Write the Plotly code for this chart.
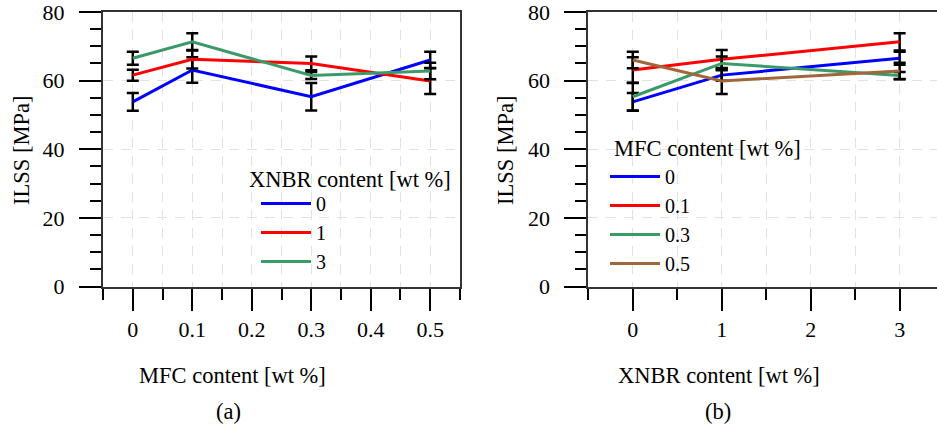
import plotly.graph_objects as go

# ---- data ----
mfc_levels = [0, 0.1, 0.3, 0.5]          # MFC content [wt %]
xnbr_levels = [0, 1, 3]                  # XNBR content [wt %]

# ILSS [MPa] for each MFC level, ordered by XNBR level (0, 1, 3)
ilss_mfc_0 = [53.8, 61.6, 66.5]
ilss_mfc_01 = [63.1, 66.2, 71.3]
ilss_mfc_03 = [55.3, 65.0, 61.5]
ilss_mfc_05 = [66.0, 59.9, 62.8]

# error (+/-) [MPa], same ordering
err_mfc_0 = [2.6, 1.6, 1.9]
err_mfc_01 = [3.7, 2.7, 2.5]
err_mfc_03 = [4.0, 2.0, 1.0]
err_mfc_05 = [2.4, 3.8, 2.4]

mfc_labels = ["0", "0.1", "0.3", "0.5"]
xnbr_labels = ["0", "1", "3"]

ilss_rows = [ilss_mfc_0, ilss_mfc_01, ilss_mfc_03, ilss_mfc_05]
err_rows = [err_mfc_0, err_mfc_01, err_mfc_03, err_mfc_05]

# ---- styles ----
FONT = "Liberation Serif, Times New Roman, serif"
FS = 22
TFS = 22.5
LFS = 20
left_colors = ["#0000FF", "#FF0000", "#3A9A6A"]
right_colors = ["#0000FF", "#FF0000", "#3A9A6A", "#A0683A"]
GRID = "#e2e2e2"
DASH = "10px,8px"
AXLINE = "#333333"
W, H = 937, 437

fig = go.Figure()

# panel (a): ILSS vs MFC, one line per XNBR level
for j, lab in enumerate(xnbr_labels):
    fig.add_trace(go.Scatter(
        x=mfc_levels,
        y=[row[j] for row in ilss_rows],
        error_y=dict(type="data", array=[row[j] for row in err_rows],
                     color="black", thickness=2.5, width=6),
        mode="lines", name=lab,
        line=dict(color=left_colors[j], width=3),
        xaxis="x", yaxis="y", legend="legend",
    ))

# panel (b): ILSS vs XNBR, one line per MFC level
for i, lab in enumerate(mfc_labels):
    fig.add_trace(go.Scatter(
        x=xnbr_levels,
        y=ilss_rows[i],
        error_y=dict(type="data", array=err_rows[i],
                     color="black", thickness=2.5, width=6),
        mode="lines", name=lab,
        line=dict(color=right_colors[i], width=3),
        xaxis="x2", yaxis="y2", legend="legend2",
    ))

tickfont = dict(family=FONT, size=FS, color="black")

def xaxis_cfg(domain, rng, dtick, minor_dtick, mirror):
    return dict(
        domain=domain, range=rng, tickmode="linear", tick0=0, dtick=dtick,
        ticks="outside", ticklen=22, tickwidth=1.5, tickcolor="black",
        showline=True, linecolor=AXLINE, linewidth=2, mirror=mirror,
        showgrid=True, gridcolor=GRID, griddash=DASH, gridwidth=1,
        zeroline=False, tickfont=tickfont, ticklabelstandoff=0,
        ticklabeloverflow="allow", automargin=False,
        minor=dict(tick0=0, dtick=minor_dtick, ticks="outside", ticklen=11,
                   tickwidth=1.5, tickcolor="black", showgrid=True,
                   gridcolor=GRID, griddash=DASH, gridwidth=1),
    )

def yaxis_cfg(domain, anchor, mirror):
    return dict(
        domain=domain, range=[0, 80], tickmode="linear", tick0=0, dtick=20,
        ticks="outside", ticklen=22, tickwidth=1.5, tickcolor="black",
        showline=True, linecolor=AXLINE, linewidth=2, mirror=mirror,
        showgrid=True, gridcolor=GRID, griddash=DASH, gridwidth=1,
        zeroline=False, tickfont=tickfont, ticklabelstandoff=10, anchor=anchor,
        ticklabeloverflow="allow", automargin=False,
        minor=dict(tick0=0, dtick=5, ticks="outside", ticklen=11,
                   tickwidth=1.5, tickcolor="black", showgrid=False),
    )

ydom = [1 - 286.5 / H, 1 - 12 / H]

fig.update_layout(
    width=W, height=H,
    margin=dict(l=0, r=0, t=0, b=0, autoexpand=False),
    paper_bgcolor="white", plot_bgcolor="white",
    font=dict(family=FONT, size=FS, color="black"),
    xaxis=xaxis_cfg([103 / W, 460 / W], [-0.0501, 0.5501], 0.1, 0.05, True) | dict(anchor="y"),
    yaxis=yaxis_cfg(ydom, "x", True),
    xaxis2=xaxis_cfg([588.3 / W, 1.0], [-0.5, 3.42], 1, 0.5, True) | dict(anchor="y2"),
    yaxis2=yaxis_cfg(ydom, "x2", False),
    legend=dict(
        x=256 / W, y=1 - 184 / H, xanchor="left", yanchor="top",
        bgcolor="rgba(0,0,0,0)", borderwidth=0, font=dict(family=FONT, size=LFS),
        itemwidth=50, tracegroupgap=0,
    ),
    legend2=dict(
        x=605 / W, y=1 - 157 / H, xanchor="left", yanchor="top",
        bgcolor="rgba(0,0,0,0)", borderwidth=0, font=dict(family=FONT, size=LFS),
        itemwidth=50, tracegroupgap=0,
    ),
    showlegend=True,
)

# white backdrops of the legend boxes (hide grid, keep axes and data)
for x0, x1, y0, y1 in [(244, 458, 166, 279), (607, 806, 134, 280)]:
    fig.add_shape(type="rect", xref="paper", yref="paper",
                  x0=x0 / W, x1=x1 / W, y0=1 - y1 / H, y1=1 - y0 / H,
                  fillcolor="white", line=dict(width=0), layer="between")

# legend titles
for text, px, py in [("XNBR content [wt %]", 247, 179), ("MFC content [wt %]", 612, 148)]:
    fig.add_annotation(
        text=text, x=px / W, y=1 - py / H, xref="paper", yref="paper",
        xanchor="left", yanchor="middle", showarrow=False,
        font=dict(family=FONT, size=TFS, color="black"),
    )

annots = [
    ("ILSS [MPa]", 21, 151, -90),
    ("ILSS [MPa]", 505, 151, -90),
    ("MFC content [wt %]", 232, 375, 0),
    ("XNBR content [wt %]", 719, 375, 0),
    ("(a)", 228, 411, 0),
    ("(b)", 718, 411, 0),
]
for text, px, py, ang in annots:
    fig.add_annotation(
        text=text, x=px / W, y=1 - py / H, xref="paper", yref="paper",
        xanchor="center", yanchor="middle", showarrow=False, textangle=ang,
        font=dict(family=FONT, size=TFS, color="black"),
    )

fig.write_html("out.html")
